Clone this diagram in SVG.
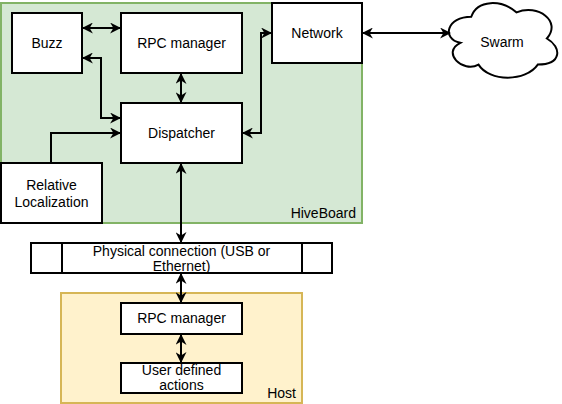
<svg xmlns="http://www.w3.org/2000/svg" width="562" height="404" viewBox="0 0 562 404">
<style>
.box{fill:#fff;stroke:#000;stroke-width:2}
.t{font-family:"Liberation Sans",Arial,sans-serif;font-size:14px;fill:#000;text-anchor:middle}
.lbl{font-family:"Liberation Sans",Arial,sans-serif;font-size:14px;fill:#000;text-anchor:end}
.c{fill:none;stroke:#000;stroke-width:2}
</style>
<defs>
<marker id="ah" viewBox="0 0 10 10" refX="9" refY="5" markerWidth="5.5" markerHeight="5.5" orient="auto-start-reverse" markerUnits="strokeWidth">
<path d="M0,0 L10,5 L0,10 L3,5 Z" fill="#000"/>
</marker>
</defs>
<g id="hiveboard">
<rect x="1" y="3" width="361" height="220" fill="#d5e8d4" stroke="#82b366" stroke-width="2"/>
<text class="lbl" x="356" y="218">HiveBoard</text>
</g>
<g id="host">
<rect x="61" y="293" width="241" height="110" fill="#fff2cc" stroke="#d6b656" stroke-width="2"/>
<text class="lbl" x="296" y="398">Host</text>
</g>
<g id="buzz"><rect class="box" x="12" y="13" width="70" height="60"/><text class="t" x="47" y="48">Buzz</text></g>
<g id="rpc-board"><rect class="box" x="121" y="13" width="121" height="60"/><text class="t" x="181.5" y="48">RPC manager</text></g>
<g id="dispatcher"><rect class="box" x="121" y="103" width="121" height="60"/><text class="t" x="181.5" y="138">Dispatcher</text></g>
<g id="relloc"><rect class="box" x="1" y="163" width="101" height="60"/><text class="t" x="51.5" y="190">Relative</text><text class="t" x="51.5" y="207">Localization</text></g>
<g id="network"><rect class="box" x="272" y="3" width="90" height="60"/><text class="t" x="317" y="38">Network</text></g>
<g id="swarm">
<path d="M471.25,16.75 C447.050,16.75 441,38.5 460.36,42.85 C441,52.42 462.78,73.3 478.51,64.6 C489.4,82 525.7,82 537.8,64.6 C562,64.6 562,47.2 546.875,38.5 C562,21.1 537.8,3.7 516.625,12.4 C501.5,-0.65 477.3,-0.65 471.25,16.75 Z" fill="#fff" stroke="#000" stroke-width="2"/>
<text class="t" x="502" y="47">Swarm</text>
</g>
<g id="physical">
<rect class="box" x="31" y="243" width="301" height="30"/>
<line x1="62" y1="243" x2="62" y2="273" stroke="#000" stroke-width="2"/>
<line x1="302" y1="243" x2="302" y2="273" stroke="#000" stroke-width="2"/>
<text class="t" x="181.5" y="255.5">Physical connection (USB or</text>
<text class="t" x="181.5" y="271">Ethernet)</text>
</g>
<g id="rpc-host"><rect class="box" x="121" y="303" width="121" height="31"/><text class="t" x="181.5" y="323">RPC manager</text></g>
<g id="user-actions"><rect class="box" x="121" y="363" width="121" height="30"/><text class="t" x="181.5" y="375">User defined</text><text class="t" x="181.5" y="390">actions</text></g>
<g id="connectors">
<path class="c" d="M83,28 L120,28" marker-start="url(#ah)" marker-end="url(#ah)"/>
<path class="c" d="M83,58 L101,58 L101,118 L120,118" marker-start="url(#ah)" marker-end="url(#ah)"/>
<path class="c" d="M51,163 L51,133 L120,133" marker-end="url(#ah)"/>
<path class="c" d="M181,74 L181,102" marker-start="url(#ah)" marker-end="url(#ah)"/>
<path class="c" d="M243,133 L261,133 L261,33 L271,33" marker-start="url(#ah)" marker-end="url(#ah)"/>
<path class="c" d="M363,33 L450,33" marker-start="url(#ah)" marker-end="url(#ah)"/>
<path class="c" d="M181,164 L181,242" marker-start="url(#ah)" marker-end="url(#ah)"/>
<path class="c" d="M181,274 L181,302" marker-start="url(#ah)" marker-end="url(#ah)"/>
<path class="c" d="M181,335 L181,362" marker-start="url(#ah)" marker-end="url(#ah)"/>
</g>
</svg>
